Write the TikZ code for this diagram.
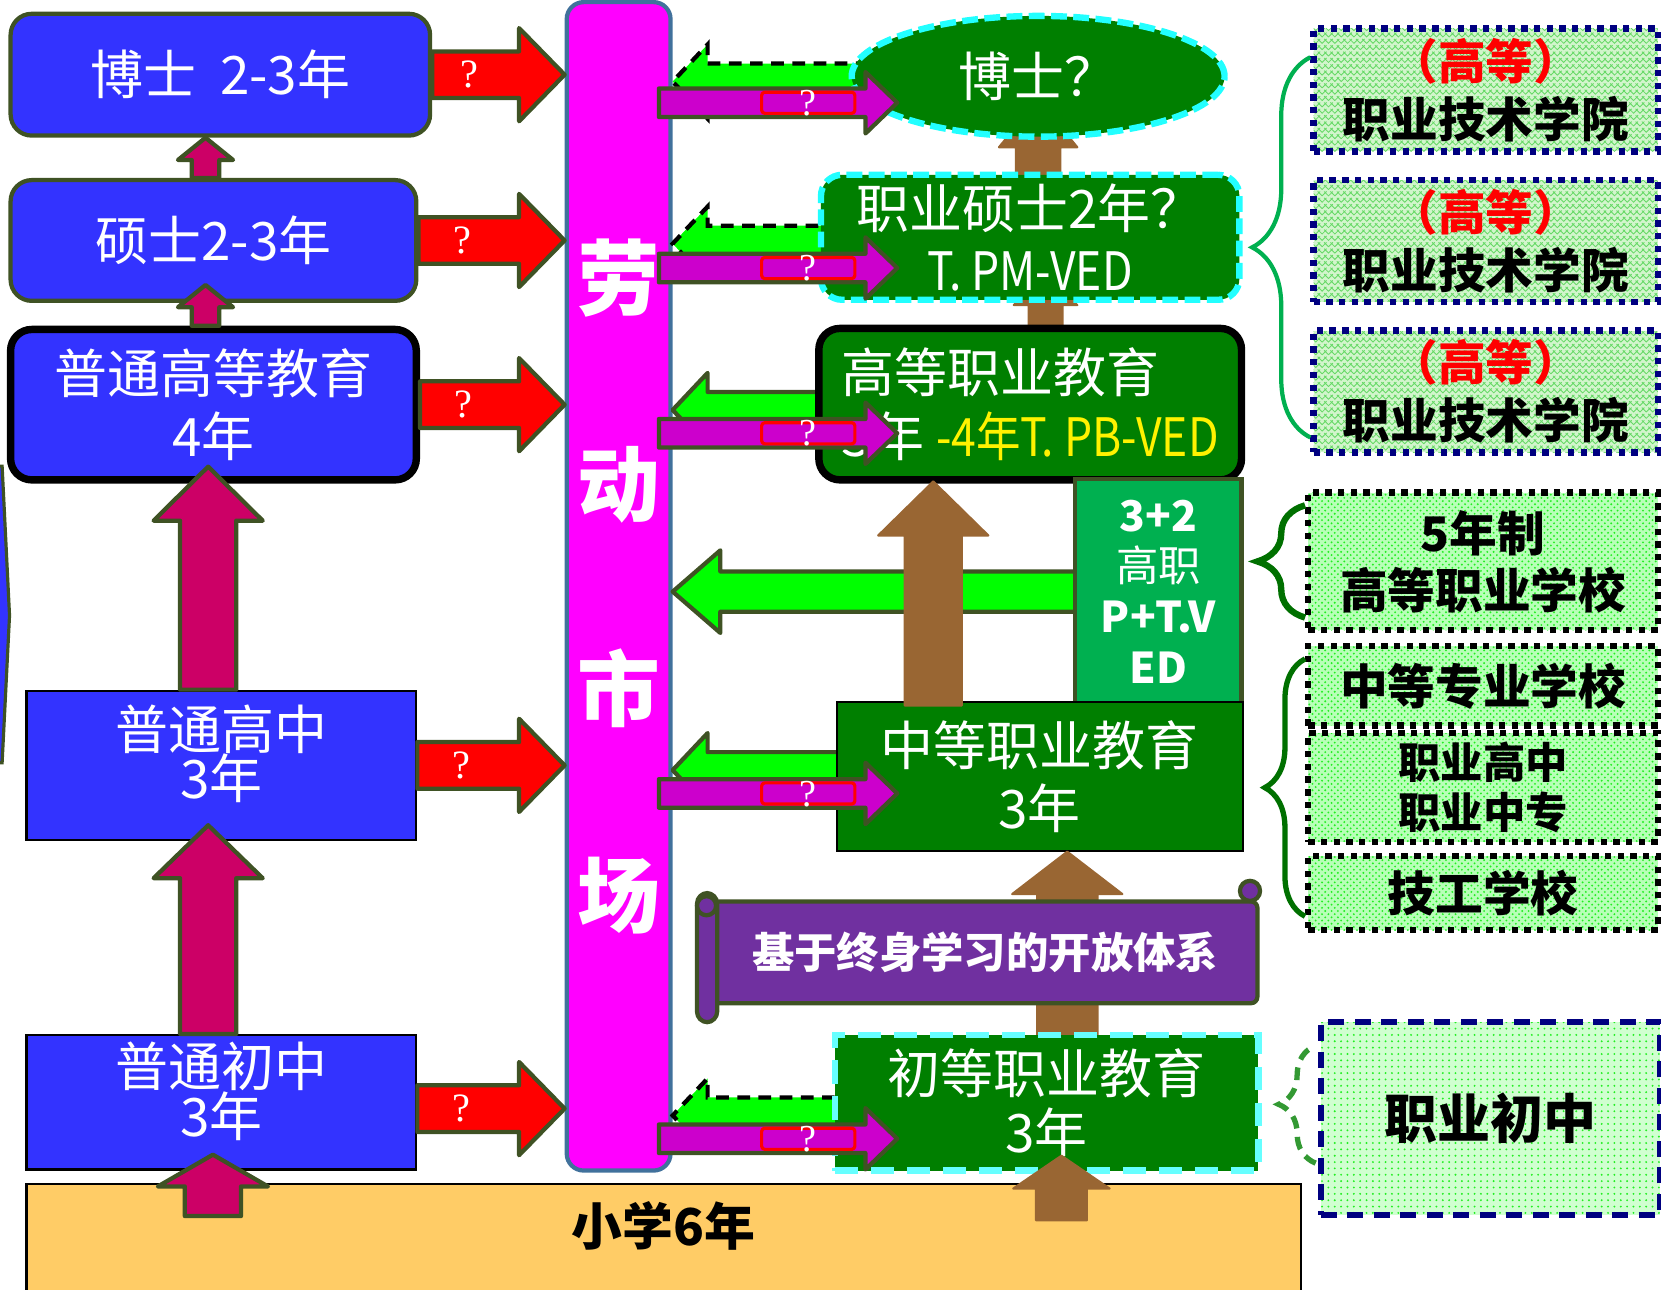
\documentclass[tikz,border=0pt]{standalone}
\usepackage{fontspec}
\setmainfont{Noto Sans CJK SC}
\newfontfamily\qfont{Liberation Serif}
\usepackage{graphicx}
\usetikzlibrary{shapes,calc,patterns,decorations.pathreplacing}

\definecolor{boxblue}{HTML}{3333FF}
\definecolor{edgeolive}{HTML}{3F5224}
\definecolor{upred}{HTML}{CC0066}
\definecolor{vgreen}{HTML}{007F00}
\definecolor{dashcyan}{HTML}{22FFFF}
\definecolor{lightcyan}{HTML}{66FFFF}
\definecolor{limeg}{HTML}{00FF00}
\definecolor{magarr}{HTML}{CC00CC}
\definecolor{mktpink}{HTML}{FF00FF}
\definecolor{tpgreen}{HTML}{00B050}
\definecolor{upbrown}{HTML}{996633}
\definecolor{scrollpurple}{HTML}{7030A0}
\definecolor{primaryyellow}{HTML}{FFCC66}
\definecolor{mktblue}{HTML}{41719C}
\definecolor{navyb}{HTML}{000080}
\definecolor{bracedark}{HTML}{007000}
\definecolor{bracelight}{HTML}{339933}
\definecolor{patlight}{HTML}{D2F5CC}
\definecolor{patgreen}{HTML}{66D966}
\definecolor{checklight}{HTML}{B8FFB8}
\definecolor{checkgreen}{HTML}{22EE22}
\definecolor{dotlight}{HTML}{D0FFD0}
\definecolor{dotgreen}{HTML}{22EE22}

\newcommand\rightblock[7]{%
  \draw[#1] let \p1=(#2), \p2=(#3) in
    (\x1,\y1+#4) -- (\x2-#6,\y1+#4) -- (\x2-#6,\y1+#5) -- (\x2,\y1)
    -- (\x2-#6,\y1-#5) -- (\x2-#6,\y1-#4) -- (\x1,\y1-#4) -- cycle
    (0.5*\x1+0.5*\x2-0.5*#6,\y1) node[#7]{\smash{\raisebox{-0.33em}{?}}};}
\newcommand\leftblock[6]{%
  \draw[#1] let \p1=(#2), \p2=(#3) in
    (\x1,\y1+#4) -- (\x2+#6,\y1+#4) -- (\x2+#6,\y1+#5) -- (\x2,\y1)
    -- (\x2+#6,\y1-#5) -- (\x2+#6,\y1-#4) -- (\x1,\y1-#4) -- cycle;}
\newcommand\upblock[6]{%
  \draw[#1] let \p1=(#2), \p2=(#3) in
    (\x1-#4,\y1) -- (\x1-#4,\y2-#6) -- (\x1-#5,\y2-#6) -- (\x1,\y2)
    -- (\x1+#5,\y2-#6) -- (\x1+#4,\y2-#6) -- (\x1+#4,\y1) -- cycle;}

\begin{document}
\begin{tikzpicture}[x=0.5pt,y=-0.5pt,
  bluebox/.style={draw=edgeolive,line width=2pt,fill=boxblue,rounded corners=10pt,text=white,align=center,font=\fontsize{25}{30}\selectfont},
  flatbox/.style={draw=black,line width=1pt,fill=boxblue,minimum width=184pt},
  boxtext/.style={text=white,align=center,font={\fontsize{25}{23.5}\selectfont\lineskiplimit=-50pt},yshift=5.5pt},
  vocbox/.style={fill=vgreen,text=white,align=center,font=\fontsize{25}{29.5}\selectfont},
  cyandash/.style={draw=dashcyan,line width=3pt,dash pattern=on 7.5pt off 3pt},
  redarrow/.style={fill=red,draw=edgeolive,line width=2pt,line join=round},
  uparrow/.style={fill=upred,draw=edgeolive,line width=2pt,line join=round},
  brownarrow/.style={fill=upbrown,draw=upbrown,line width=1pt,line join=round},
  magarrow/.style={fill=magarr,draw=edgeolive,line width=2pt,line join=round},
  gdash/.style={fill=limeg,draw=black,line width=2pt,dash pattern=on 6pt off 4pt},
  gsolid/.style={fill=limeg,draw=edgeolive,line width=2pt,line join=round},
  qred/.style={text=white,inner sep=0pt,xshift=-3pt,font=\qfont\fontsize{19}{19}\selectfont},
  qmag/.style={draw=red,line width=1.5pt,rounded corners=1.5pt,minimum width=44pt,minimum height=10pt,inner sep=0pt,xshift=21.75pt,text=white,font=\qfont\fontsize{18}{18}\selectfont},
  scrollroll/.style={fill=scrollpurple,draw=edgeolive,line width=2pt},
  colbox/.style={draw=navyb,line width=3pt,dash pattern=on 3pt off 3pt,preaction={fill=patlight},pattern=crosshatch,pattern color=patgreen,align=center,minimum width=162.5pt,font=\fontsize{22.5}{27.5}\selectfont\bfseries},
  schoolbox/.style={draw=black,line width=3pt,dash pattern=on 3pt off 3pt,preaction={fill=checklight},pattern=crosshatch dots,pattern color=checkgreen,align=center,minimum width=165pt,font=\fontsize{22.5}{27}\selectfont\bfseries},
  bracestyle/.style={decorate,line width=2pt}
]
\useasboundingbox (0,0) rectangle (1568,1217);
\clip (0,0) rectangle (1568,1217);

\draw[fill=boxblue,draw=edgeolive,line width=1.5pt] (-20,440) -- (2,440) -- (9,581) -- (2,720) -- (-20,720) -- cycle;

\node[draw=black,line width=1pt,fill=primaryyellow,minimum width=601.5pt,minimum height=71pt,
  label={[font=\fontsize{24}{24}\selectfont\bfseries,yshift=16pt]center:小学6年}] (primary) at (626.5,1189) {};

\node[bluebox,minimum width=198pt,minimum height=57.5pt] (phd) at (208,70.5) {博士\ \ 2-3年};
\node[bluebox,minimum width=191.5pt,minimum height=57pt] (master) at (201.5,227) {硕士2-3年};
\node[bluebox,draw=black,line width=3.5pt,minimum width=191.5pt,minimum height=71pt,font=\fontsize{25}{29.5}\selectfont] (bachelor) at (201.5,382) {普通高等教育\\4年};
\node[flatbox,minimum height=70.5pt,label={[boxtext]center:{普通高中\\3年}}] (senior) at (209,722.5) {};
\node[flatbox,minimum height=63.5pt,label={[boxtext,yshift=-0.25pt]center:{普通初中\\3年}}] (junior) at (209,1040.5) {};

\upblock{uparrow}{$(master.north)+(-7.5,0)$}{phd.south}{6.5pt}{13pt}{10.5pt}
\upblock{uparrow}{$(bachelor.north)+(-7.5,0)$}{$(master.south)+(0,-17)$}{6.5pt}{13pt}{10.5pt}
\upblock{uparrow}{$(senior.north)+(-12.5,0)$}{$(bachelor.south)+(0,-16)$}{13.25pt}{25.75pt}{25.5pt}
\upblock{uparrow}{$(junior.north)+(-12.5,0)$}{$(senior.south)+(0,-15)$}{13.25pt}{25.75pt}{25pt}
\upblock{uparrow}{$(junior.south)+(-8,43)$}{$(junior.south)+(0,-15)$}{13.25pt}{26pt}{15pt}

\node[draw=mktblue,line width=2pt,fill=mktpink,rounded corners=8pt,minimum width=49pt,minimum height=551.5pt,text=white,align=center,font=\fontsize{39}{97}\selectfont\bfseries] (market) at (584,553.5) {劳\\动\\市\\场};

\rightblock{redarrow}{phd.east}{market.west}{11pt}{22pt}{21.5pt}{qred}
\rightblock{redarrow}{master.east}{market.west}{11pt}{22pt}{21.5pt}{qred}
\rightblock{redarrow}{bachelor.east}{market.west}{11pt}{22pt}{21.5pt}{qred}
\rightblock{redarrow}{senior.east}{market.west}{11pt}{22pt}{21.5pt}{qred}
\rightblock{redarrow}{$(junior.east)+(0,6)$}{market.west}{11pt}{22pt}{21.5pt}{qred}

\path (980,72) coordinate (phdqpos) (972.5,224) coordinate (mvocpos) (972.5,381.5) coordinate (hvocpos)
  (1093.5,558.5) coordinate (tppos) (981.5,733) coordinate (svocpos) (988,1041) coordinate (pvocpos);
\leftblock{gdash}{$(phdqpos)+(0,5)$}{market.east}{8.5pt}{17.5pt}{16.5pt}
\leftblock{gdash}{$(mvocpos)+(0,6)$}{market.east}{8.5pt}{17.5pt}{16.5pt}
\leftblock{gsolid}{$(hvocpos)+(0,5.5)$}{market.east}{8.5pt}{17.5pt}{16.5pt}
\leftblock{gsolid}{$(svocpos)+(0,-6)$}{market.east}{8.5pt}{17.5pt}{16.5pt}
\leftblock{gdash}{$(pvocpos)+(0,12)$}{market.east}{8.5pt}{17.5pt}{16.5pt}
\leftblock{gsolid}{$(tppos)+(-60,0)$}{market.east}{9.5pt}{19.5pt}{22.5pt}

\upblock{brownarrow}{$(phdqpos)+(0,93)$}{$(phdqpos)+(0,22)$}{10.5pt}{18.5pt}{22.5pt}
\upblock{brownarrow}{$(hvocpos)+(14.5,-71.5)$}{$(mvocpos)+(14.5,34)$}{8pt}{15pt}{15pt}

\node[ellipse,fill=vgreen,cyandash,minimum width=176pt,minimum height=57pt,inner sep=0pt,text=white,font=\fontsize{25}{30}\selectfont] (phdq) at (phdqpos) {博士？};
\node[vocbox,cyandash,rounded corners=10pt,minimum width=197.5pt,minimum height=59pt] (mvoc) at (mvocpos) {职业硕士2年？\\\scalebox{0.84}[1]{T. PM-VED}};
\node[vocbox,draw=black,line width=3.5pt,rounded corners=10pt,align=left,minimum width=199.5pt,minimum height=71.5pt,font=\fontsize{25}{30}\selectfont] (hvoc) at (hvocpos) {高等职业教育\\3年 {\color{yellow}\scalebox{0.84}[1]{-4年T. PB-VED}}};
\node[fill=tpgreen,draw=edgeolive,line width=2pt,minimum width=78.5pt,minimum height=106.5pt,text=white,align=center,font=\fontsize{20}{24}\selectfont\bfseries] (tp) at (tppos) {3+2\\{\mdseries 高职}\\P+T.V\\ED};
\node[vocbox,draw=black,line width=1pt,minimum width=191.5pt,minimum height=70pt,font=\fontsize{25}{30}\selectfont] (svoc) at (svocpos) {中等职业教育\\3年};
\upblock{brownarrow}{$(svoc.north)+(-100.5,4)$}{$(hvoc.south)+(0,-2)$}{13.5pt}{26pt}{25.5pt}
\upblock{brownarrow}{$(pvocpos)+(19.5,-64)$}{svoc.south}{14.25pt}{26pt}{20pt}

\node[fill=scrollpurple,draw=edgeolive,line width=2pt,rounded corners=3pt,minimum width=257pt,minimum height=48pt,text=white,font=\fontsize{20}{20}\selectfont\bfseries] (banner) at (930,899) {基于终身学习的开放体系};
\draw[scrollroll,rounded corners=5pt] ($(banner.north west)+(-13,-6)$) rectangle ($(banner.south west)+(6,16)$);
\draw[scrollroll] ($(banner.north west)+(-4,6)$) circle (4.5pt);
\draw[scrollroll] ($(banner.north east)+(-9,-8)$) circle (4.75pt);

\node[vocbox,draw=lightcyan,line width=3pt,dash pattern=on 11pt off 6pt,minimum width=200pt,minimum height=64pt,font=\fontsize{25}{28}\selectfont] (pvoc) at (pvocpos) {初等职业教育\\3年};
\upblock{brownarrow}{$(pvoc.south)+(14,44)$}{$(pvoc.south)+(0,-17)$}{12pt}{22.75pt}{15.5pt}

\rightblock{magarrow}{$(market.east |- phdq)+(-13,25)$}{$(market.east)+(212,0)$}{6.75pt}{14.5pt}{15pt}{qmag}
\rightblock{magarrow}{$(market.east |- mvoc)+(-13,29)$}{$(market.east)+(212,0)$}{6.75pt}{14.5pt}{15pt}{qmag}
\rightblock{magarrow}{$(market.east |- hvoc)+(-13,27.5)$}{$(market.east)+(212,0)$}{6.75pt}{14.5pt}{15pt}{qmag}
\rightblock{magarrow}{$(market.east |- svoc)+(-13,16)$}{$(market.east)+(212,0)$}{6.75pt}{14.5pt}{15pt}{qmag}
\rightblock{magarrow}{$(market.east |- pvoc)+(-13,34)$}{$(market.east)+(212,0)$}{6.75pt}{14.5pt}{15pt}{qmag}

\node[colbox,minimum height=58pt] (c1) at (1402.5,85) {{\color{red}（高等）}\\职业技术学院};
\node[colbox,minimum height=57.5pt] (c2) at (1402.5,227.5) {{\color{red}（高等）}\\职业技术学院};
\node[colbox,minimum height=57.5pt] (c3) at (1402.5,369.5) {{\color{red}（高等）}\\职业技术学院};
\node[schoolbox,minimum height=65pt] (f5) at (1400,530) {5年制\\高等职业学校};
\node[schoolbox,minimum height=37.5pt] (sp) at (1400,647.5) {中等专业学校};
\node[schoolbox,minimum height=51.5pt,font=\fontsize{20}{23.5}\selectfont\bfseries] (vh) at (1400,743.5) {职业高中\\职业中专};
\node[schoolbox,minimum height=35pt] (tech) at (1400,843) {技工学校};
\node[draw=navyb,line width=3pt,dash pattern=on 7.5pt off 5pt,preaction={fill=dotlight},pattern=dots,pattern color=dotgreen,minimum width=160pt,minimum height=91pt,font=\fontsize{25}{25}\selectfont\bfseries] (vj) at (1407,1056) {职业初中};

\draw[bracestyle,draw=tpgreen,decoration={brace,amplitude=27.5pt}] ($(c3.south west)+(0,-17)$) -- ($(c1.north west)+(0,30)$);
\draw[bracestyle,line width=3pt,draw=bracedark,decoration={brace,amplitude=22.5pt}] ($(f5.south west)+(0,-15)$) -- ($(f5.north west)+(0,15)$);
\draw[bracestyle,line width=2.5pt,draw=bracedark,decoration={brace,amplitude=19pt}] ($(tech.south west)+(0,-16)$) -- ($(sp.north west)+(0,15)$);
\draw[bracestyle,line width=2.5pt,draw=bracelight,dash pattern=on 6pt off 4pt,decoration={brace,amplitude=17.5pt}] ($(vj.south west)+(-2,-52)$) -- ($(vj.north west)+(-2,25)$);
\end{tikzpicture}
\end{document}
